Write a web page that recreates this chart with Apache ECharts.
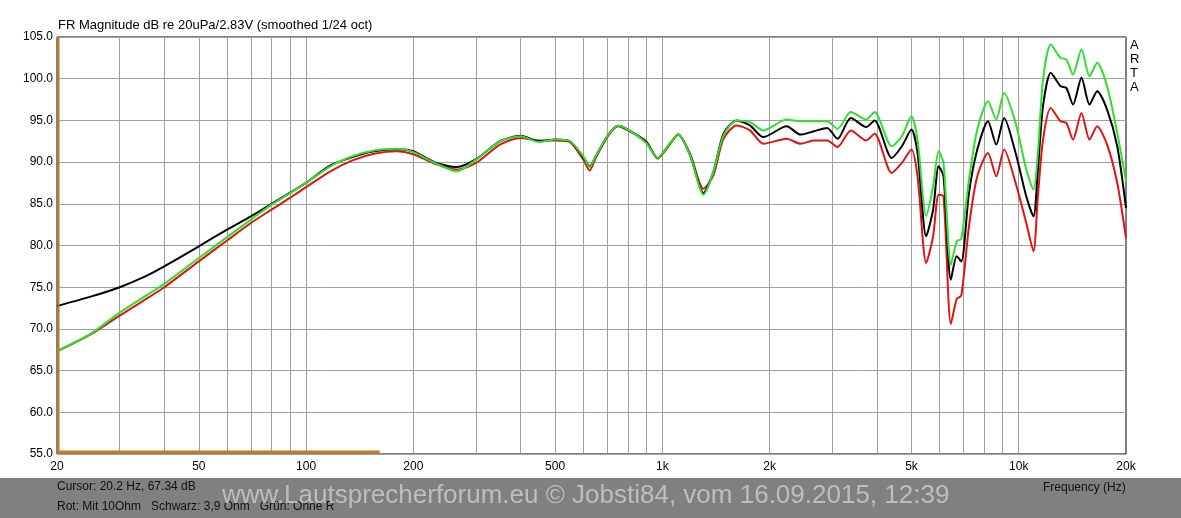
<!DOCTYPE html>
<html><head><meta charset="utf-8">
<script src="https://cdn.jsdelivr.net/npm/echarts@6/dist/echarts.min.js"></script>
<style>html,body{margin:0;padding:0;background:#fff}#c{width:1181px;height:518px}</style>
</head><body><div id="c"></div>
<script>
// Frequencies (Hz)
const freqs = [20,25,30,35,40,50,60,70,80,90,100,117,135,155,180,200,230,265,300,350,400,450,500,550,600,625,650,700,750,800,900,970,1040,1108,1196,1304,1390,1484,1616,1760,1920,2232,2440,2660,2900,3100,3380,3730,3940,4400,4700,5000,5200,5500,5750,5960,6150,6450,6700,6900,7250,7650,8200,8650,9100,9800,10500,11000,11300,11700,12300,13100,13600,14200,15000,15800,16600,17700,18900,20000];
// Schwarz: 3,9 Ohm
const black = [72.75,73.9,75.0,76.2,77.5,79.9,81.9,83.5,85.0,86.3,87.5,89.6,90.6,91.3,91.55,91.3,89.95,89.4,90.35,92.5,93.15,92.5,92.7,92.5,90.6,89.5,90.7,93.1,94.35,93.9,92.4,90.5,92.0,93.3,90.8,86.3,88.8,93.4,95.0,94.4,93.0,94.3,93.3,93.7,94.1,92.8,95.3,94.2,95.0,90.5,91.9,93.9,91.1,81.1,84.3,89.5,88.3,75.9,78.7,78.1,86.3,91.5,94.9,92.1,95.3,91.1,85.9,83.5,88.7,96.7,100.7,99.1,98.9,96.9,100.1,96.9,98.5,96.3,91.9,84.5];
// Rot: Mit 10Ohm
const red = [67.3,69.4,71.6,73.4,75.0,78.1,80.6,82.7,84.3,85.7,87.0,88.9,90.2,91.0,91.3,90.95,89.8,89.1,89.9,92.1,92.9,92.6,92.6,92.4,90.3,89.0,90.5,93.0,94.3,93.8,92.5,90.4,91.9,93.3,91.0,86.8,88.4,92.8,94.4,93.8,92.2,92.8,92.2,92.6,92.6,91.8,93.8,92.6,93.4,88.7,89.9,91.5,88.3,77.9,81.1,86.1,85.9,70.6,73.6,74.0,82.3,88.3,91.1,88.3,91.5,87.5,82.7,79.3,85.5,92.7,96.5,94.9,94.7,92.7,95.9,92.7,94.3,92.1,87.5,80.9];
// Grün: Ohne R
const green = [67.35,69.5,71.95,73.8,75.4,78.5,81.0,83.1,84.9,86.25,87.5,89.5,90.7,91.4,91.6,91.2,89.9,88.9,90.3,92.5,93.1,92.4,92.7,92.5,90.7,89.4,90.7,93.1,94.35,93.9,92.3,90.5,92.0,93.3,90.8,86.1,88.8,93.2,95.0,94.8,93.8,95.1,94.9,94.9,94.9,94.0,96.0,95.1,96.0,91.9,93.1,95.5,92.7,83.5,87.1,91.3,89.9,77.7,80.5,80.8,87.9,93.9,97.3,95.1,98.3,94.7,89.1,86.7,90.7,99.9,104.1,102.5,102.3,100.5,103.5,100.3,101.9,99.1,93.5,87.7];
// Axis ticks
const xLabelFreqs = [20,50,100,200,500,1000,2000,5000,10000,20000];
const xGridFreqs = [30,40,50,60,70,80,90,100,200,300,400,500,600,700,800,900,1000,2000,3000,4000,5000,6000,7000,8000,9000,10000];
const yMin = 55, yMax = 105, yStep = 5;
// Cursor and marker
const cursorFreq = 20.2;
const cursorRange = [55, 105];
const markerFreqs = [20, 161];
const markerLevel = 55.25;

const FONT = '"Liberation Sans", Arial, sans-serif';
const lg = Math.log10;
const pts = arr => freqs.map((f, i) => [lg(f), arr[i]]);

const chart = echarts.init(document.getElementById('c'), null, {renderer: 'canvas'});
const lineSeries = (name, arr, color) => ({
  name, type: 'line', data: pts(arr), showSymbol: false, symbol: 'none', smooth: 0.25,
  lineStyle: {color, width: 2}, itemStyle: {color}, animation: false, silent: true
});
chart.setOption({
  animation: false,
  backgroundColor: '#fff',
  grid: {left: 57, right: 55, top: 37, bottom: 64, show: true, borderColor: '#000', borderWidth: 1, backgroundColor: '#fff'},
  xAxis: {
    type: 'value', min: lg(20), max: lg(20000),
    axisLine: {show: false},
    axisTick: {show: false, customValues: xGridFreqs.map(lg)},
    splitLine: {show: true, lineStyle: {color: '#a0a0a0', width: 1}},
    axisLabel: {
      customValues: xLabelFreqs.map(lg), color: '#000', fontSize: 12, fontFamily: FONT, margin: 7,
      formatter: v => { const f = Math.round(Math.pow(10, v)); return f >= 1000 ? (f / 1000) + 'k' : String(f); }
    }
  },
  yAxis: {
    type: 'value', min: yMin, max: yMax, interval: yStep,
    axisLine: {show: false}, axisTick: {show: false},
    splitLine: {show: true, lineStyle: {color: '#a0a0a0', width: 1}},
    axisLabel: {color: '#000', fontSize: 12, fontFamily: FONT, margin: 4, formatter: v => v.toFixed(1)}
  },
  series: [
    lineSeries('Rot', red, '#e01414'),
    lineSeries('Schwarz', black, '#000000'),
    lineSeries('Grün', green, '#2ee02e'),
    {type: 'line', data: cursorRange.map(v => [lg(cursorFreq), v]), showSymbol: false, symbol: 'none',
     lineStyle: {color: '#c8781e', width: 2}, animation: false, silent: true},
    {type: 'line', data: markerFreqs.map(f => [lg(f), markerLevel]), showSymbol: false, symbol: 'none',
     lineStyle: {color: '#c8781e', width: 3}, animation: false, silent: true, clip: false}
  ],
  graphic: [
    {type: 'text', left: 58, top: 19, style: {text: 'FR Magnitude dB re 20uPa/2.83V (smoothed 1/24 oct)', fill: '#000', font: '13px ' + FONT}},
    {type: 'text', left: 1130, top: 38, style: {text: 'A\nR\nT\nA', fill: '#000', font: '13px ' + FONT, lineHeight: 14}},
    {type: 'rect', left: 0, top: 478, shape: {width: 1181, height: 40}, style: {fill: '#808080'}, z: 0},
    {type: 'text', left: 57, top: 481, z: 2, style: {text: 'Cursor: 20.2 Hz, 67.34 dB', fill: '#111', font: '12px ' + FONT}},
    {type: 'text', left: 57, top: 501, z: 2, style: {text: 'Rot: Mit 10Ohm   Schwarz: 3,9 Ohm   Grün: Ohne R', fill: '#111', font: '12px ' + FONT}},
    {type: 'text', left: 1043, top: 482, z: 2, style: {text: 'Frequency (Hz)', fill: '#111', font: '12px ' + FONT}},
    {type: 'text', left: 222, top: 483, z: 3, style: {text: 'www.Lautsprecherforum.eu © Jobsti84, vom 16.09.2015, 12:39', fill: 'rgba(195,195,195,0.9)', font: '26px ' + FONT}}
  ]
});
</script></body></html>
